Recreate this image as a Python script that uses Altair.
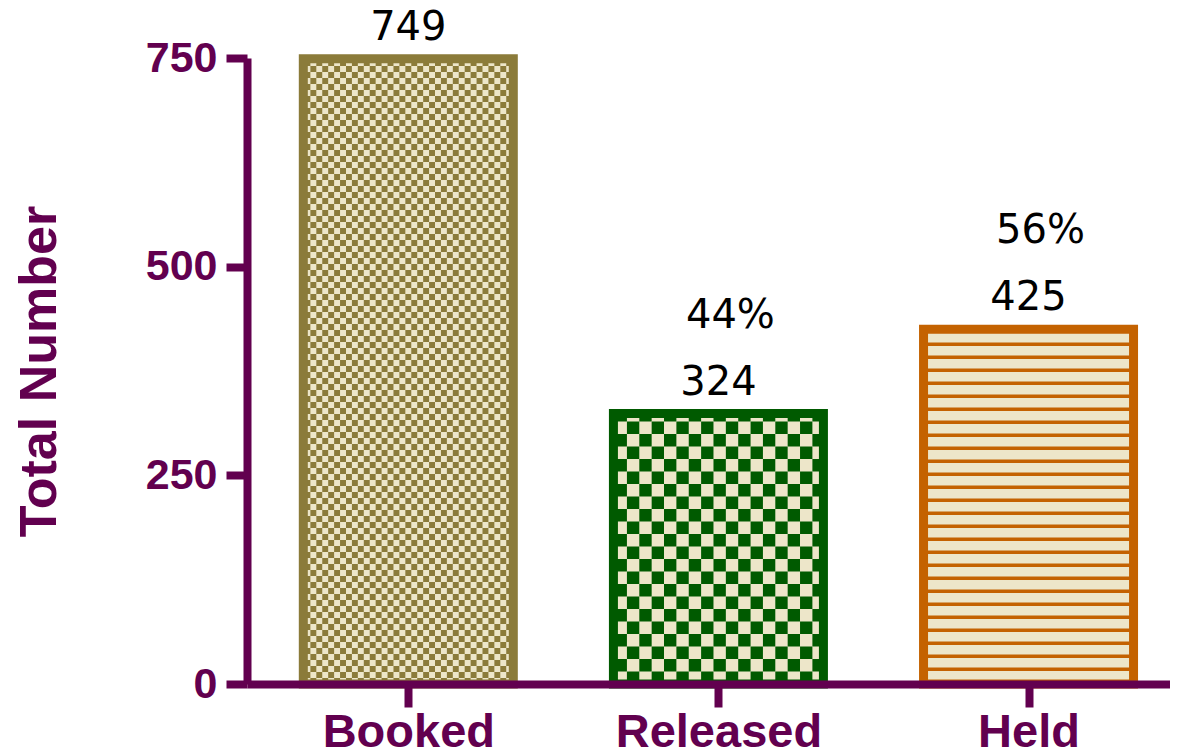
import json
import math
import altair as alt
import pandas as pd

# ---- data ----
categories = ["Booked", "Released", "Held"]
totals = [749, 324, 425]
shares = ["", "44%", "56%"]
y_ticks = [0, 250, 500, 750]

# ---- styles ----
dark_colors = ["#8B7B3A", "#005A00", "#C46200"]
cream = "#EDE6C9"
purple = "#62004F"

W, H = 923, 626
X_DOMAIN = [-0.504, 2.44]
Y_DOMAIN = [0, 750]
BAR_PX = 210
px_x = W / (X_DOMAIN[1] - X_DOMAIN[0])
px_y = H / (Y_DOMAIN[1] - Y_DOMAIN[0])
half = BAR_PX / 2 / px_x

# texture of each bar: (kind, cell/period in px)
textures = [("checker", 6.0), ("checker", 12.5), ("stripes", 13.0)]
STRIPE_LINE_PX = 3.5

bars_df = pd.DataFrame({
    "cat": categories,
    "idx": list(range(len(categories))),
    "total": totals,
    "share": shares,
})

tex_rows = []
for i, (cat, val, (kind, cell)) in enumerate(zip(categories, totals, textures)):
    x0, x1 = i - half, i + half
    if kind == "checker":
        cw, ch = cell / px_x, cell / px_y
        nx = math.ceil((x1 - x0) / cw)
        ny = math.ceil(val / ch)
        for a in range(nx):
            for b in range(ny):
                if (a + b) % 2 == 1:
                    tex_rows.append({"cat": cat,
                                     "x": x0 + a * cw, "x2": min(x0 + (a + 1) * cw, x1),
                                     "y": b * ch, "y2": min((b + 1) * ch, val)})
    else:
        per, lw = cell / px_y, STRIPE_LINE_PX / px_y
        nb = math.ceil(val / per)
        for b in range(nb):
            y0 = b * per
            if y0 < val:
                tex_rows.append({"cat": cat, "x": x0, "x2": x1,
                                 "y": y0, "y2": min(y0 + lw, val)})
tex_df = pd.DataFrame(tex_rows)

xs = alt.Scale(domain=X_DOMAIN, nice=False, zero=False)
ys = alt.Scale(domain=Y_DOMAIN, nice=False)
cscale = alt.Scale(domain=categories, range=dark_colors)

label_expr = json.dumps(categories) + "[datum.value]"

x_axis = alt.Axis(values=list(range(len(categories))), labelExpr=label_expr, title=None,
                  labelFont="Liberation Sans", labelFontSize=47, labelFontWeight="bold",
                  labelColor=purple, labelPadding=2, labelFlush=False, labelOverlap=False,
                  labelLimit=0, labelBound=False,
                  tickSize=23, tickWidth=8, tickColor=purple,
                  domainColor=purple, domainWidth=8, grid=False, zindex=1)
y_axis = alt.Axis(values=y_ticks, title="Total Number",
                  titleFont="Liberation Sans", titleFontSize=52, titleFontWeight="bold",
                  titleColor=purple, titleX=-192, titleBaseline="alphabetic",
                  labelFont="Liberation Sans", labelFontSize=43, labelFontWeight="bold",
                  labelColor=purple, labelPadding=9, labelFlush=False, labelLimit=0,
                  tickSize=21, tickWidth=8, tickColor=purple,
                  domainColor=purple, domainWidth=8, grid=False, zindex=1)


def X(field):
    return alt.X(field, scale=xs, axis=x_axis, title=None)


def Y(field):
    return alt.Y(field, scale=ys, axis=y_axis, title="Total Number")


base = alt.Chart(bars_df)

fill_layer = base.mark_bar(orient="vertical", size=BAR_PX, fill=cream).encode(
    x=X("idx:Q"), y=Y("total:Q"),
)

tex_layer = alt.Chart(tex_df).mark_rect().encode(
    x=X("x:Q"), x2="x2:Q",
    y=Y("y:Q"), y2="y2:Q",
    color=alt.Color("cat:N", scale=cscale, legend=None),
)

outline_layer = base.mark_bar(orient="vertical", size=BAR_PX, fillOpacity=0, strokeWidth=9).encode(
    x=X("idx:Q"), y=Y("total:Q"),
    stroke=alt.Stroke("cat:N", scale=cscale, legend=None),
)

value_text = base.mark_text(dy=-19, baseline="alphabetic", font="DejaVu Sans",
                            fontSize=40, color="black").encode(
    x=X("idx:Q"), y=Y("total:Q"), text="total:Q",
)

share_text = alt.Chart(bars_df[bars_df["share"] != ""]).mark_text(
    dy=-86, dx=12, baseline="alphabetic", font="DejaVu Sans", fontSize=40, color="black"
).encode(
    x=X("idx:Q"), y=Y("total:Q"), text="share:N",
)

chart = alt.layer(fill_layer, tex_layer, outline_layer, value_text, share_text).properties(
    width=W, height=H,
    autosize=alt.AutoSizeParams(type="none"),
    padding={"left": 239, "top": 50, "right": 0, "bottom": 68},
).configure_view(strokeWidth=0)

chart.save("out.html", embed_options={"renderer": "svg", "actions": False})
